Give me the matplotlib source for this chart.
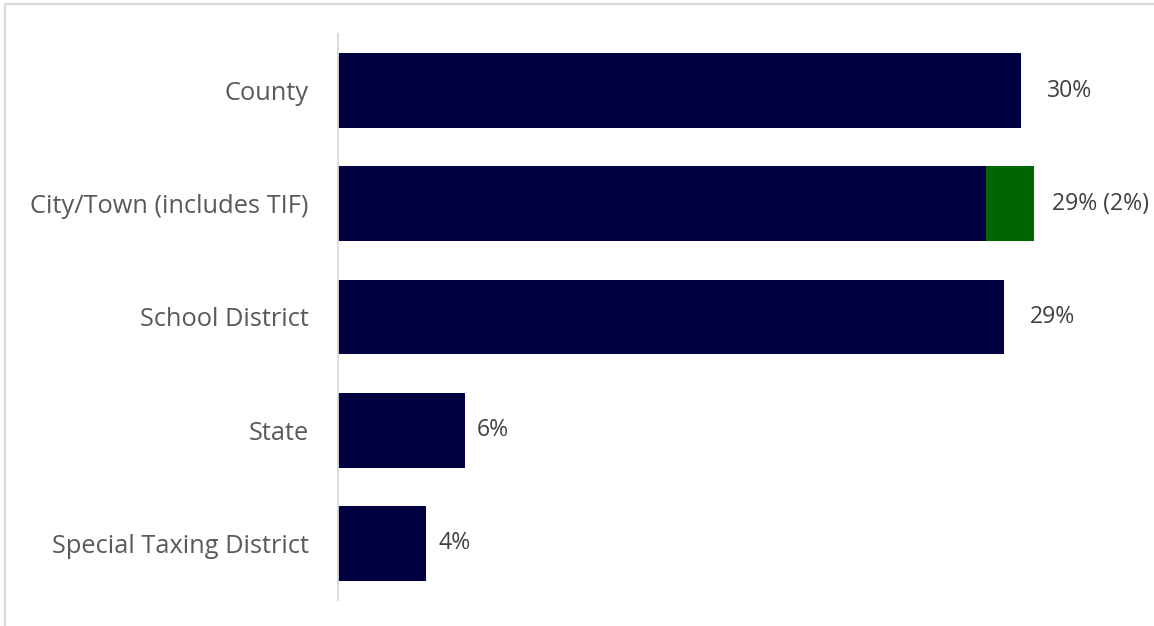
import matplotlib.pyplot as plt
from matplotlib.patches import Rectangle

categories = ["County", "City/Town (includes TIF)", "School District", "State", "Special Taxing District"]
base_share = [30.0, 28.45, 29.25, 5.6, 3.85]
tif_share = [0.0, 2.1, 0.0, 0.0, 0.0]
bar_labels = ["30%", "29% (2%)", "29%", "6%", "4%"]

NAVY = "#000040"
GREEN = "#006600"
GRAY_TXT = "#595959"
GRID = "#d9d9d9"

plt.rcParams["font.family"] = ["Open Sans", "DejaVu Sans"]

fig = plt.figure(figsize=(11.54, 6.26), dpi=100)
W, H = 1154, 626
# axes from x=338 px, y=34..600 px
ax = fig.add_axes([338 / W, 1 - 600 / H, (W - 338) / W, 566 / H])

ypos = list(range(len(categories)))
ax.barh(ypos, base_share, height=0.66, color=NAVY)
ax.barh(ypos, tif_share, left=base_share, height=0.66, color=GREEN)

px_per_pct = 683 / 30.0
ax.set_xlim(0, (W - 338) / px_per_pct)
ax.set_ylim(len(categories) - 0.5, -0.5)

# label gaps in pixels, as placed in the original
label_pad = [26, 18, 26, 11, 13]
for i, lab in enumerate(bar_labels):
    total = base_share[i] + tif_share[i]
    ax.annotate(lab, (total, i), xytext=(label_pad[i] * 0.72, 0),
                textcoords="offset points", va="center", ha="left",
                fontsize=16.6, color="#404040", annotation_clip=False)

ax.set_yticks(ypos)
ax.set_yticklabels(categories, fontsize=18.3, color=GRAY_TXT)
ax.tick_params(axis="y", length=0, pad=21)
ax.set_xticks([])

for s in ["top", "right", "bottom"]:
    ax.spines[s].set_visible(False)
ax.spines["left"].set_color(GRID)
ax.spines["left"].set_linewidth(1.3)

# chart border (top and left visible)
fig.patches.append(Rectangle((4.5 / W, -0.1), 1.2, 1 - 4.5 / H + 0.1,
                             transform=fig.transFigure, fill=False,
                             edgecolor=GRID, linewidth=1.6))

fig.savefig("out.png", dpi=100)
